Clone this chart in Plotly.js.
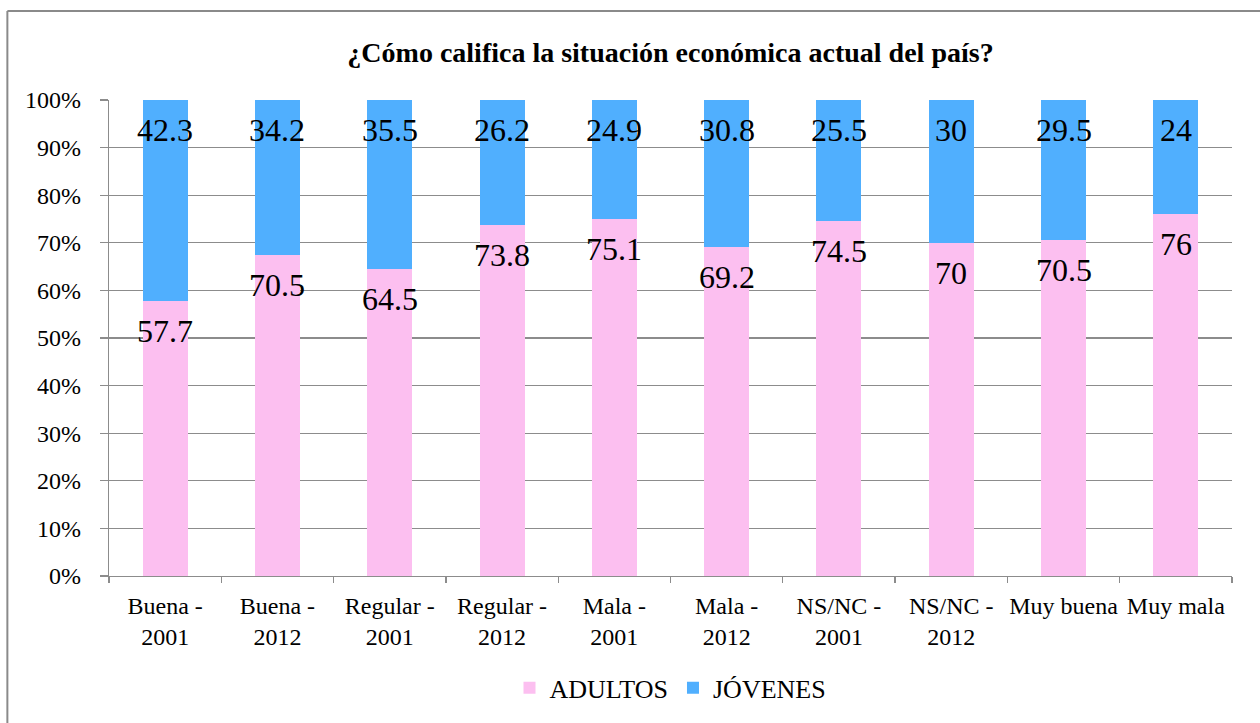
<!DOCTYPE html>
<html>
<head>
<meta charset="utf-8">
<script src="https://cdn.plot.ly/plotly-3.0.1.min.js"></script>
</head>
<body style="margin:0; font-family: 'Liberation Serif', serif;">
<div id="chart"></div>
<script>
const categories = ["Buena -<br>2001", "Buena -<br>2012", "Regular -<br>2001", "Regular -<br>2012",
                    "Mala -<br>2001", "Mala -<br>2012", "NS/NC -<br>2001", "NS/NC -<br>2012",
                    "Muy buena", "Muy mala"];
const adultos = [57.7, 70.5, 64.5, 73.8, 75.1, 69.2, 74.5, 70, 70.5, 76];
const jovenes = [42.3, 34.2, 35.5, 26.2, 24.9, 30.8, 25.5, 30, 29.5, 24];
const seriesNames = ["ADULTOS", "JÓVENES"];
const titleText = "¿Cómo califica la situación económica actual del país?";

const pink = "#FCBFF0";
const blue = "#50AFFE";
const gridCol = "#8c8c8c";
const fontFam = "Liberation Serif";

const traces = [
  { type: "bar", name: seriesNames[0], x: categories, y: adultos,
    marker: { color: pink }, hoverinfo: "skip" },
  { type: "bar", name: seriesNames[1], x: categories, y: jovenes,
    marker: { color: blue }, hoverinfo: "skip" }
];

const annotations = [];
categories.forEach((c, i) => {
  const tot = adultos[i] + jovenes[i];
  const aTop = adultos[i] / tot * 100;
  annotations.push({ x: c, y: aTop, xref: "x", yref: "y", text: String(adultos[i]),
    showarrow: false, yanchor: "top", yshift: -10,
    font: { family: fontFam, size: 32 } });
  annotations.push({ x: c, y: 100, xref: "x", yref: "y", text: String(jovenes[i]),
    showarrow: false, yanchor: "top", yshift: -10,
    font: { family: fontFam, size: 32 } });
});
// outer frame (left and top edges of the chart area border)
const shapes = [
  { type: "line", xref: "paper", yref: "paper", x0: -0.0905, x1: -0.0905, y0: -0.5, y1: 1.187,
    line: { color: "#8a8a8a", width: 2 } },
  { type: "line", xref: "paper", yref: "paper", x0: -0.0905, x1: 1.2, y0: 1.187, y1: 1.187,
    line: { color: "#8a8a8a", width: 2 } }
];

const layout = {
  width: 1260, height: 723,
  margin: { l: 109, r: 28, t: 100, b: 143 },
  paper_bgcolor: "#fff", plot_bgcolor: "#fff",
  barmode: "stack", barnorm: "percent", bargap: 0.6,
  font: { family: fontFam, color: "#000" },
  title: { text: "<b>" + titleText + "</b>",
           font: { family: fontFam, size: 28 },
           x: 0.5, xref: "paper", xanchor: "center", y: 0.928, yanchor: "middle" },
  xaxis: { type: "category", tickson: "boundaries", ticks: "outside", ticklen: 6, tickangle: 0,
           tickcolor: gridCol, tickwidth: 1.3, showline: true, linecolor: gridCol, linewidth: 1.3,
           ticklabelstandoff: 8,
           showgrid: false, tickfont: { family: fontFam, size: 24 } },
  yaxis: { range: [0, 100], dtick: 10, ticksuffix: "%",
           ticks: "outside", ticklen: 8, tickcolor: gridCol, tickwidth: 1.3,
           showgrid: true, gridcolor: gridCol, gridwidth: 1.3, zeroline: false,
           showline: true, linecolor: gridCol, linewidth: 1.3,
           ticklabelstandoff: 14,
           tickfont: { family: fontFam, size: 24 } },
  legend: { orientation: "h", traceorder: "normal", x: 0.5, xanchor: "center", y: -0.235, yanchor: "middle",
            font: { family: fontFam, size: 26 } },
  annotations: annotations,
  shapes: shapes,
  showlegend: true
};

const gd = document.getElementById("chart");
Plotly.newPlot(gd, traces, layout, { staticPlot: true });
// redraw once fonts are ready, so text is measured and drawn with the serif face
if (document.fonts && document.fonts.ready) {
  Promise.all([
    document.fonts.load('24px "Liberation Serif"'),
    document.fonts.load('bold 28px "Liberation Serif"')
  ]).catch(() => {}).then(() => document.fonts.ready).then(() => Plotly.redraw(gd));
}
</script>
</body>
</html>
